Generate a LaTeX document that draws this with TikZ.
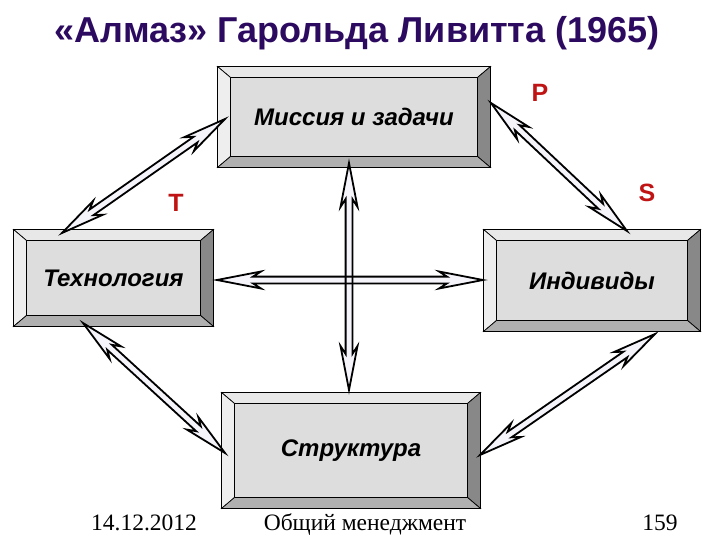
\documentclass[tikz,border=0pt]{standalone}
\usepackage{fontspec}
\setmainfont{Liberation Serif}
\setsansfont{Liberation Sans}
\usetikzlibrary{calc, positioning}
\definecolor{titleviolet}{RGB}{44, 10, 96}
\definecolor{letterred}{RGB}{192, 20, 20}
\definecolor{facegray}{RGB}{221, 221, 221}
\definecolor{bevtopgray}{RGB}{232, 232, 232}
\definecolor{bevleftgray}{RGB}{238, 238, 238}
\definecolor{bevrightgray}{RGB}{136, 136, 136}
\definecolor{bevbotgray}{RGB}{176, 176, 176}
\definecolor{arrowwhite}{RGB}{244, 244, 250}

% outline of a two-headed hollow arrow between two named points
\newcommand{\hollowarrow}[2]{%
  (#1) -- ($(#1)!44pt!(#2)!8.5pt!90:(#2)$)
  -- ($(#1)!36pt!(#2)!3.4pt!90:(#2)$)
  -- ($(#2)!36pt!(#1)!3.4pt!-90:(#1)$)
  -- ($(#2)!44pt!(#1)!8.5pt!-90:(#1)$)
  -- (#2)
  -- ($(#2)!44pt!(#1)!8.5pt!90:(#1)$)
  -- ($(#2)!36pt!(#1)!3.4pt!90:(#1)$)
  -- ($(#1)!36pt!(#2)!3.4pt!-90:(#2)$)
  -- ($(#1)!44pt!(#2)!8.5pt!-90:(#2)$)
  -- cycle}

\begin{document}
\begin{tikzpicture}[
  x=1pt, y=-1pt,
  bevbox/.style={draw, line width=0.9pt, fill=facegray, inner sep=0pt,
    font=\sffamily\bfseries\itshape\fontsize{24}{28}\selectfont},
  bevline/.style={draw=black, line width=0.7pt},
  arrowfill/.style={fill=arrowwhite},
  arrowline/.style={draw=black, line width=1.8pt, line join=miter},
  letter/.style={font=\sffamily\bfseries\fontsize{25}{28}\selectfont, text=letterred},
  footer/.style={font=\rmfamily\fontsize{23.5}{26}\selectfont, anchor=base}
]
  \useasboundingbox (0,0) rectangle (720,540);

  \node[font=\sffamily\bfseries\fontsize{36}{40}\selectfont, text=titleviolet] (title) at (357,33)
    {«Алмаз» Гарольда Ливитта (1965)};

  % the four boxes
  \node[bevbox, minimum width=272pt, minimum height=100pt] (mission) at (354,117) {Миссия и задачи};
  \node[bevbox, minimum width=199pt, minimum height=96pt] (tech) at (113.5,278) {Технология};
  \node[bevbox, minimum width=216pt, minimum height=101pt] (people) at (592,280.5) {Индивиды};
  \node[bevbox, minimum width=258pt, minimum height=115pt] (struct) at (351,450.5) {Структура};

  \foreach \n in {mission, tech, people, struct} {
    \path[bevline, fill=bevtopgray] (\n.north west) -- (\n.north east)
      -- ($(\n.north east)+(-13,11)$) -- ($(\n.north west)+(13,11)$) -- cycle;
    \path[bevline, fill=bevleftgray] (\n.north west) -- ($(\n.north west)+(13,11)$)
      -- ($(\n.south west)+(13,-11)$) -- (\n.south west) -- cycle;
    \path[bevline, fill=bevrightgray] (\n.north east) -- (\n.south east)
      -- ($(\n.south east)+(-13,-11)$) -- ($(\n.north east)+(-13,11)$) -- cycle;
    \path[bevline, fill=bevbotgray] (\n.south west) -- ($(\n.south west)+(13,-11)$)
      -- ($(\n.south east)+(-13,-11)$) -- (\n.south east) -- cycle;
    \draw[line width=0.9pt] (\n.north west) rectangle (\n.south east);
  }

  % arrow ends
  \coordinate (tm1) at (62,233);   \coordinate (tm2) at (225,119);
  \coordinate (mp1) at (491,103);  \coordinate (mp2) at (627,231);
  \coordinate (ts1) at (83,323);   \coordinate (ts2) at (225,453);
  \coordinate (sp1) at (480,455);  \coordinate (sp2) at (655,334);
  \coordinate (hz1) at (217,280);  \coordinate (hz2) at (483,280);
  \coordinate (vt1) at (349,163);  \coordinate (vt2) at (349,390);

  \foreach \a/\b in {tm1/tm2, mp1/mp2, ts1/ts2, sp1/sp2, hz1/hz2, vt1/vt2}
    \path[arrowfill] \hollowarrow{\a}{\b};
  \foreach \a/\b in {tm1/tm2, mp1/mp2, ts1/ts2, sp1/sp2, hz1/hz2, vt1/vt2}
    \path[arrowline] \hollowarrow{\a}{\b};

  \node[letter] (lp) at (540,93) {P};
  \node[letter] (ls) at (647,193) {S};
  \node[letter] (lt) at (176,203) {T};

  \node[footer] (date) at (144,530) {14.12.2012};
  \node[footer] (course) at (365,530) {Общий менеджмент};
  \node[footer] (page) at (660,530) {159};
\end{tikzpicture}
\end{document}
